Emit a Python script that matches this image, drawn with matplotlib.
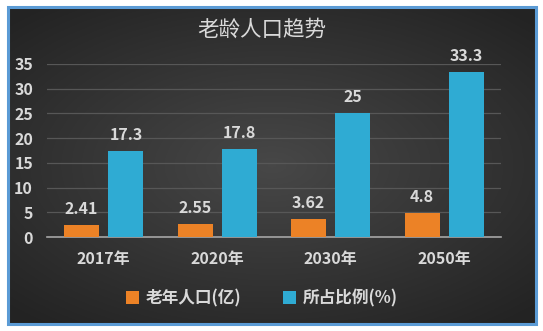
import numpy as np
import matplotlib
matplotlib.use("Agg")
import matplotlib.pyplot as plt
from matplotlib.patches import Rectangle

plt.rcParams['font.family'] = ['Noto Sans CJK SC', 'DejaVu Sans']

# ============================================================
# DATA
# ============================================================
years = ["2017年", "2020年", "2030年", "2050年"]
elderly_pop = [2.41, 2.55, 3.62, 4.8]       # 老年人口(亿)
elderly_share = [17.3, 17.8, 25, 33.3]      # 所占比例(%)
series_names = ["老年人口(亿)", "所占比例(%)"]
yticks = [0, 5, 10, 15, 20, 25, 30, 35]

ORANGE = "#EC8226"
BLUE = "#2FABD3"
TEXT = "#D9D9D9"

W, H = 543, 331
fig = plt.figure(figsize=(W / 100, H / 100), dpi=100)
fig.patch.set_facecolor("white")

# ============================================================
# BACKGROUND — dark radial gradient with blue border
# ============================================================
bx0, bx1, by0, by1 = 8 / W, 536 / W, 1 - 324 / H, 1 - 7 / H
bg = fig.add_axes([bx0, by0, bx1 - bx0, by1 - by0])
gx, gy = np.meshgrid(np.linspace(-1, 1, 300), np.linspace(-1, 1, 200))
r = np.clip(np.sqrt(gx ** 2 + (gy * 1.1) ** 2), 0, 1.4)
shade = 0.28 - 0.10 * r
bg.imshow(np.dstack([shade, shade, shade]), aspect="auto", extent=[0, 1, 0, 1])
bg.add_patch(Rectangle((0, 0), 1, 1, transform=bg.transAxes, fill=False,
                       edgecolor="#5B9BD5", linewidth=2.2, clip_on=False))
bg.set_axis_off()

# ============================================================
# BAR CHART
# ============================================================
ax = fig.add_axes([47 / W, 1 - 237 / H, 454 / W, 173 / H])
ax.patch.set_alpha(0)
x = np.arange(len(years))
width = 0.31
off = 0.195

b1 = ax.bar(x - off, elderly_pop, width, color=ORANGE, label=series_names[0], zorder=3)
b2 = ax.bar(x + off, elderly_share, width, color=BLUE, label=series_names[1], zorder=3)
for bars in (b1, b2):
    ax.bar_label(bars, labels=[f"{v:g}" for v in bars.datavalues], padding=6,
                 color=TEXT, fontsize=11.5, fontweight="bold")

ax.set_xlim(-0.5, len(years) - 0.5)
ax.set_ylim(0, 35)
ax.set_yticks(yticks)
ax.set_xticks(x)
ax.set_xticklabels(years)
ax.tick_params(axis="both", length=0, colors=TEXT, labelsize=11.5)
ax.tick_params(axis="x", pad=10)
ax.tick_params(axis="y", pad=10)
for lab in ax.get_xticklabels() + ax.get_yticklabels():
    lab.set_fontweight("bold")
ax.grid(axis="y", color="#575757", linewidth=0.9, zorder=0)
for side in ("top", "right", "left"):
    ax.spines[side].set_visible(False)
ax.spines["bottom"].set_color("#A6A6A6")
ax.spines["bottom"].set_linewidth(1.2)

fig.text(262 / W, 1 - 30 / H, "老龄人口趋势", ha="center", va="center",
         color=TEXT, fontsize=15.5)

leg = fig.legend(handles=[b1, b2], loc="center", bbox_to_anchor=(262 / W, 1 - 298 / H),
                 ncol=2, frameon=False, fontsize=12, handlelength=0.8, handleheight=0.8,
                 handletextpad=0.4, columnspacing=2.5)
for t in leg.get_texts():
    t.set_color(TEXT)
    t.set_fontweight("bold")

plt.savefig("out.png", dpi=100)
